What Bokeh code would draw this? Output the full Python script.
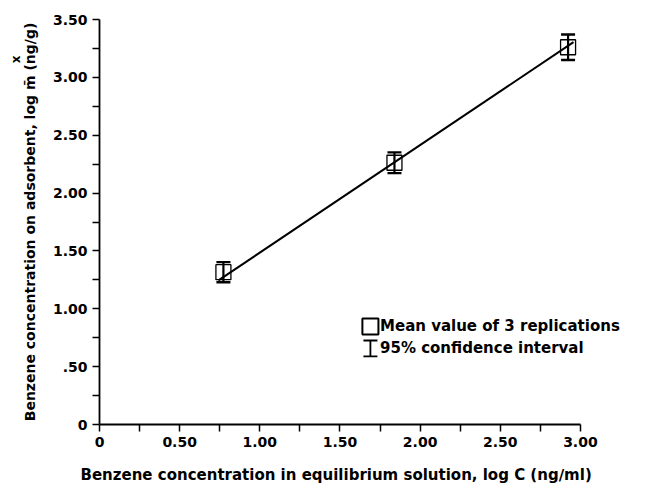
from bokeh.plotting import figure
from bokeh.models import (Range1d, FixedTicker, Whisker, TeeHead, ColumnDataSource,
                          Label, BoxAnnotation, Title)
from bokeh.embed import file_html
from bokeh.resources import INLINE

# ---- data ----
log_c = [0.773, 1.84, 2.923]         # log C (ng/ml)
log_xm = [1.316, 2.262, 3.26]        # mean log x/m (ng/g)
ci_half = [0.087, 0.09, 0.11]        # half width of 95% confidence interval
fit_x = [0.742, 2.957]               # fitted line end points
fit_y = [1.245, 3.304]

x_ticks = [0, 0.5, 1.0, 1.5, 2.0, 2.5, 3.0]
x_minor = [0.25, 0.75, 1.25, 1.75, 2.25, 2.75]
x_tick_labels = ["0", "0.50", "1.00", "1.50", "2.00", "2.50", "3.00"]
y_ticks = [0, 0.5, 1.0, 1.5, 2.0, 2.5, 3.0, 3.5]
y_minor = [0.25, 0.75, 1.25, 1.75, 2.25, 2.75, 3.25]
y_tick_labels = ["0", ".50", "1.00", "1.50", "2.00", "2.50", "3.00", "3.50"]

x_title = "Benzene concentration in equilibrium solution, log C (ng\u2215ml)"
y_title = "Benzene concentration on adsorbent, log m\u0304 (ng\u2215g)"
legend_labels = ["Mean value of 3 replications", "95% confidence interval"]

FONT = "DejaVu Sans"

# the x range runs a little past 3.00 so the legend text is not clipped;
# the axis itself is bounded to end at 3.00
p = figure(width=650, height=497, output_backend="svg", toolbar_location=None,
           x_range=Range1d(0, 3.3), y_range=Range1d(0, 3.5),
           min_border_left=99, min_border_right=22, min_border_top=19,
           min_border_bottom=73)
p.outline_line_color = None
p.grid.visible = False
p.background_fill_color = "white"
p.border_fill_color = "white"

p.xaxis.ticker = FixedTicker(ticks=x_ticks, minor_ticks=x_minor)
p.yaxis.ticker = FixedTicker(ticks=y_ticks, minor_ticks=y_minor)
p.xaxis.major_label_overrides = {t: l for t, l in zip(x_ticks, x_tick_labels)}
p.yaxis.major_label_overrides = {t: l for t, l in zip(y_ticks, y_tick_labels)}
p.xaxis.bounds = (-0.05, 3.0)

for ax in (p.xaxis, p.yaxis):
    ax.axis_line_color = "black"
    ax.axis_line_width = 1.8
    ax.major_tick_line_color = "black"
    ax.minor_tick_line_color = "black"
    ax.major_tick_line_width = 1.5
    ax.minor_tick_line_width = 1.5
    ax.major_tick_in = 0
    ax.major_tick_out = 7
    ax.minor_tick_in = 0
    ax.minor_tick_out = 7
    ax.major_label_text_font = FONT
    ax.major_label_text_font_size = "14px"
    ax.major_label_text_font_style = "bold"
    ax.major_label_text_color = "black"
    ax.axis_label_text_font = FONT
    ax.axis_label_text_font_style = "bold"
    ax.axis_label_text_color = "black"

p.xaxis.major_label_standoff = 5
p.yaxis.major_label_standoff = 5
p.yaxis.axis_label_text_font_size = "14px"
p.yaxis.axis_label_standoff = 12
p.yaxis.axis_label = y_title

# x axis title placed as a title below so it sits where the original has it
p.add_layout(Title(text=x_title, align="left", offset=-19, standoff=28,
                   text_font=FONT, text_font_size="15px", text_font_style="bold",
                   text_color="black"), "below")

# small "x" stacked over the "m" of the y axis title (numerator of x/m)
p.add_layout(Title(text="x", align="right", offset=36, standoff=-8,
                   text_font=FONT, text_font_size="12px", text_font_style="bold",
                   text_color="black"), "left")

# ---- fitted line ----
p.line(fit_x, fit_y, line_color="black", line_width=2)

# ---- data points with 95% CI ----
src = ColumnDataSource(dict(
    x=log_c, y=log_xm,
    lower=[m - h for m, h in zip(log_xm, ci_half)],
    upper=[m + h for m, h in zip(log_xm, ci_half)],
))
p.scatter("x", "y", source=src, marker="square", size=15,
          fill_color=None, line_color="black", line_width=1.3)
p.add_layout(Whisker(source=src, base="x", lower="lower", upper="upper",
                     dimension="height", line_color="black", line_width=2.2,
                     level="overlay",
                     lower_head=TeeHead(size=14, line_color="black", line_width=2.4),
                     upper_head=TeeHead(size=14, line_color="black", line_width=2.4)))

# ---- legend (drawn by hand to reproduce the I-beam symbol) ----
lx, ly1, ly2 = 1.69, 0.847, 0.657
p.add_layout(BoxAnnotation(left=lx - 0.05, right=lx + 0.05,
                           bottom=ly1 - 0.069, top=ly1 + 0.069,
                           fill_alpha=0, line_color="black", line_alpha=1.0,
                           line_width=2))
leg_src = ColumnDataSource(dict(x=[lx], lower=[ly2 - 0.069], upper=[ly2 + 0.069]))
p.add_layout(Whisker(source=leg_src, base="x", lower="lower", upper="upper",
                     dimension="height", line_color="black", line_width=1.8,
                     lower_head=TeeHead(size=14, line_color="black", line_width=1.8),
                     upper_head=TeeHead(size=14, line_color="black", line_width=1.8)))
for yy, txt in zip((ly1, ly2), legend_labels):
    p.add_layout(Label(x=lx + 0.06, y=yy, text=txt, text_font=FONT,
                       text_font_size="15px", text_font_style="bold",
                       text_color="black",
                       text_baseline="middle", text_align="left"))

open("out.html", "w").write(file_html(p, INLINE))
